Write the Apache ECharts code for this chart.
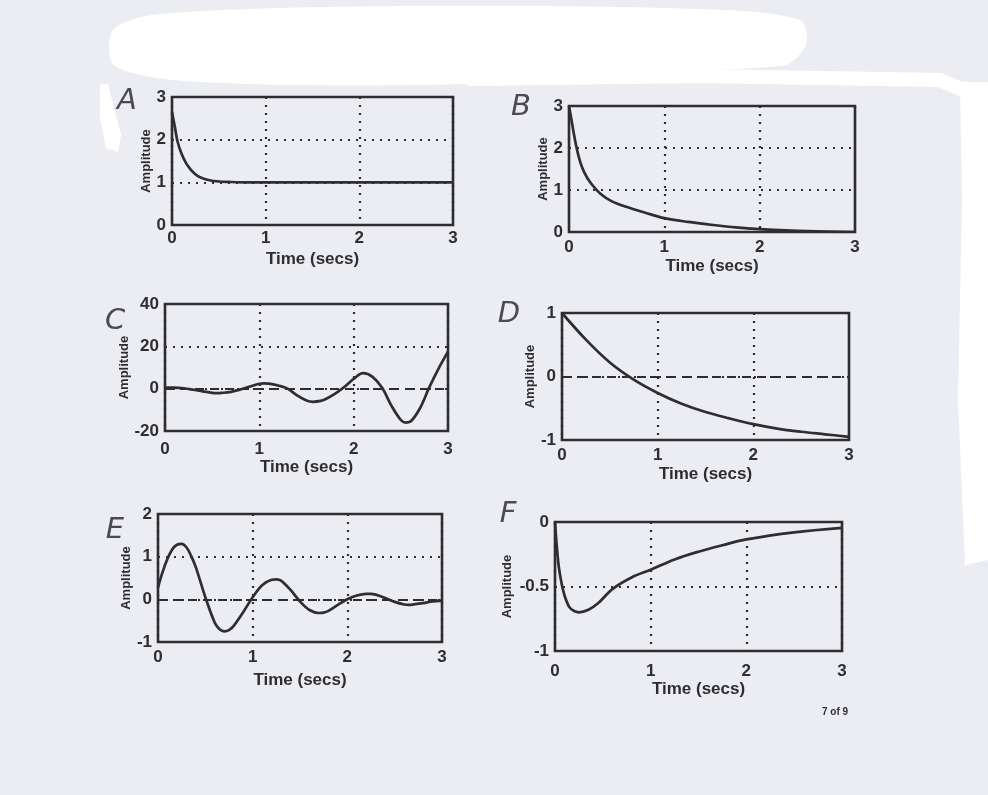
<!DOCTYPE html>
<html>
<head>
<meta charset="utf-8">
<script src="https://cdn.jsdelivr.net/npm/echarts@6/dist/echarts.min.js"></script>
<style>
html,body{margin:0;padding:0;background:#ecedf2;}
#c{width:988px;height:795px;}
</style>
</head>
<body>
<div id="c"></div>
<script>
// ---- data ----
const timeTicks = [0, 1, 2, 3];
const panelLetters = ['A', 'B', 'C', 'D', 'E', 'F'];

const tA = [0, 0.03, 0.06, 0.1, 0.15, 0.2, 0.25, 0.3, 0.4, 0.5, 0.6, 0.8, 1, 1.5, 2, 2.5, 3];
const yA = [2.65, 2.3, 1.95, 1.68, 1.45, 1.3, 1.19, 1.12, 1.05, 1.02, 1.01, 1.0, 1.0, 1.0, 1.0, 1.0, 1.0];

const tB = [0, 0.02, 0.05, 0.08, 0.12, 0.16, 0.22, 0.33, 0.45, 0.6, 0.8, 1, 1.25, 1.5, 1.75, 2, 2.5, 3];
const yB = [3, 2.75, 2.35, 2.0, 1.65, 1.42, 1.19, 0.91, 0.73, 0.6, 0.46, 0.33, 0.24, 0.17, 0.11, 0.07, 0.02, 0];

const tC = [0, 0.1, 0.2, 0.3, 0.4, 0.5, 0.55, 0.6, 0.7, 0.8, 0.9, 1.0, 1.05, 1.1, 1.2, 1.3, 1.4, 1.5, 1.57, 1.65, 1.7, 1.8, 1.9, 2.0, 2.1, 2.2, 2.3, 2.4, 2.5, 2.55, 2.6, 2.7, 2.8, 2.9, 3.0];
const yC = [0.5, 0.5, 0.2, -0.5, -1.3, -1.95, -2.1, -2.0, -1.5, -0.4, 1.0, 2.3, 2.5, 2.4, 1.5, 0.0, -3.2, -5.6, -6.2, -5.8, -5.0, -2.5, 0.8, 4.6, 7.3, 5.6, 0.5, -8.0, -14.8, -16.0, -15.6, -9.5, 0.5, 9.5, 17.5];

const tD = [0, 0.25, 0.5, 0.75, 1, 1.25, 1.5, 1.75, 2, 2.25, 2.5, 2.75, 3];
const yD = [1, 0.58, 0.22, -0.05, -0.26, -0.43, -0.56, -0.66, -0.75, -0.82, -0.87, -0.91, -0.95];

const tE = [0, 0.05, 0.1, 0.15, 0.2, 0.25, 0.3, 0.35, 0.4, 0.5, 0.6, 0.65, 0.7, 0.75, 0.8, 0.9, 1.0, 1.1, 1.2, 1.25, 1.3, 1.4, 1.5, 1.6, 1.7, 1.75, 1.8, 1.9, 2.0, 2.1, 2.2, 2.25, 2.3, 2.4, 2.5, 2.6, 2.65, 2.7, 2.8, 2.9, 3.0];
const yE = [0.28, 0.65, 0.95, 1.17, 1.28, 1.3, 1.22, 1.02, 0.75, 0.05, -0.55, -0.7, -0.75, -0.72, -0.62, -0.3, 0.05, 0.33, 0.46, 0.47, 0.44, 0.22, -0.05, -0.25, -0.32, -0.31, -0.27, -0.13, 0.0, 0.09, 0.13, 0.13, 0.11, 0.03, -0.06, -0.12, -0.13, -0.12, -0.09, -0.05, -0.03];

const tF = [0, 0.02, 0.04, 0.07, 0.1, 0.15, 0.2, 0.25, 0.35, 0.45, 0.6, 0.8, 1, 1.25, 1.5, 1.75, 2, 2.5, 3];
const yF = [0, -0.2, -0.35, -0.48, -0.57, -0.66, -0.69, -0.7, -0.68, -0.63, -0.52, -0.43, -0.37, -0.29, -0.23, -0.18, -0.135, -0.08, -0.045];

const yRanges = [[0, 3, 1], [0, 3, 1], [-20, 40, 20], [-1, 1, 1], [-1, 2, 1], [-1, 0, 0.5]];
const zeroLine = [false, false, true, true, true, false];

// ---- layout ----
const boxes = [
  {l: 172, t: 97, r: 453, b: 225, lm: 5, xg: 26, yg: 19},
  {l: 569, t: 106, r: 855, b: 232, lm: 7, xg: 26, yg: 16},
  {l: 165, t: 304, r: 448, b: 431, lm: 10, xg: 21, yg: 34},
  {l: 562, t: 313, r: 849, b: 440, lm: 7, xg: 26, yg: 24},
  {l: 158, t: 514, r: 442, b: 642, lm: 7, xg: 30, yg: 24},
  {l: 555, t: 522, r: 842, b: 651, lm: 12, xg: 27, yg: 41}
];
const letterPos = [[127, 101], [521, 107], [115, 321], [509, 314], [115, 530], [508, 514]];

const series_t = [tA, tB, tC, tD, tE, tF];
const series_y = [yA, yB, yC, yD, yE, yF];

const INK = '#2e2e31';
const FONT = "'Liberation Sans', Arial, Helvetica, sans-serif";

const grids = [], xAxes = [], yAxes = [], series = [];
boxes.forEach((b, i) => {
  grids.push({left: b.l, top: b.t, width: b.r - b.l, height: b.b - b.t,
    show: true, borderColor: INK, borderWidth: 2.6, backgroundColor: 'transparent'});
  xAxes.push({type: 'value', gridIndex: i, min: timeTicks[0], max: timeTicks[timeTicks.length - 1], interval: 1,
    name: 'Time (secs)', nameLocation: 'middle', nameGap: b.xg,
    nameTextStyle: {fontFamily: FONT, fontWeight: 'bold', fontSize: 17, color: INK},
    axisLine: {show: false}, axisTick: {show: false},
    axisLabel: {fontFamily: FONT, fontWeight: 'bold', fontSize: 17, color: INK, margin: b.lm},
    splitLine: {show: true, lineStyle: {color: INK, width: 2.2, type: [2, 6]}}});
  const yr = yRanges[i];
  yAxes.push({type: 'value', gridIndex: i, min: yr[0], max: yr[1], interval: yr[2],
    name: 'Amplitude', nameLocation: 'middle', nameGap: b.yg,
    nameTextStyle: {fontFamily: FONT, fontWeight: 'bold', fontSize: 13, color: INK},
    axisLine: {show: false}, axisTick: {show: false},
    axisLabel: {fontFamily: FONT, fontWeight: 'bold', fontSize: 17, color: INK, margin: 6},
    splitLine: {show: true, lineStyle: {color: INK, width: 2.2, type: [2, 6]}}});
  const s = {type: 'line', xAxisIndex: i, yAxisIndex: i,
    data: series_t[i].map((t, k) => [t, series_y[i][k]]),
    showSymbol: false, smooth: 0.35,
    lineStyle: {color: INK, width: 2.7}, silent: true, z: 5};
  if (zeroLine[i]) {
    s.markLine = {silent: true, symbol: 'none', label: {show: false},
      lineStyle: {color: INK, width: 2.2, type: [9, 6]},
      data: [{yAxis: 0}]};
  }
  series.push(s);
});

const graphics = [
  // white correction-fluid strokes of the scan
  {type: 'polygon', silent: true, shape: {points: [[113, 30], [160, 14], [400, 6], [700, 9], [800, 20], [806, 45], [782, 66], [480, 74], [470, 84], [200, 82], [115, 66]], smooth: 0.3},
    style: {fill: '#ffffff'}},
  {type: 'polyline', silent: true, shape: {points: [[470, 79], [700, 76], [940, 80], [968, 92]]},
    style: {stroke: '#ffffff', lineWidth: 14, lineCap: 'round', fill: null}},
  {type: 'polygon', silent: true, shape: {points: [[960, 82], [988, 82], [988, 560], [965, 565], [958, 400], [962, 200]]},
    style: {fill: '#ffffff'}},
  {type: 'polygon', silent: true, shape: {points: [[100, 84], [108, 84], [121, 135], [118, 152], [106, 148], [100, 118]]},
    style: {fill: '#ffffff'}},
  {type: 'text', left: 822, top: 707, silent: true,
    style: {text: '7 of 9', fontFamily: FONT, fontWeight: 'bold', fontSize: 10, fill: INK}}
];
letterPos.forEach((p, i) => {
  graphics.push({type: 'text', x: p[0], y: p[1], silent: true,
    style: {text: panelLetters[i], fontFamily: "'DejaVu Sans', sans-serif", fontWeight: 'normal', fontStyle: 'italic',
      fontSize: 29, fill: '#4a4a50', align: 'center', verticalAlign: 'middle'}});
});

const chart = echarts.init(document.getElementById('c'), null, {renderer: 'canvas'});
chart.setOption({
  backgroundColor: '#ecedf2',
  animation: false,
  grid: grids, xAxis: xAxes, yAxis: yAxes, series: series,
  graphic: graphics
});
</script>
</body>
</html>
